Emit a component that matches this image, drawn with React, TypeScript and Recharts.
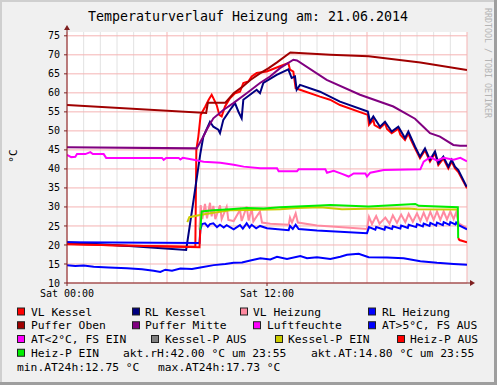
import { LineChart, Line, XAxis, YAxis, CartesianGrid } from "recharts";

const FONT = "'DejaVu Sans Mono', monospace";

// x axis in hours since Sat 00:00
const hourTicks = [0, 12];
const hourTickLabels = ["Sat 00:00", "Sat 12:00"];
const minorHours = [1, 2, 3, 4, 5, 7, 8, 9, 10, 11, 13, 14, 15, 16, 17, 19, 20, 21, 22, 23];
const majorHours = [0, 6, 12, 18, 24];
const tempTicks = [10, 15, 20, 25, 30, 35, 40, 45, 50, 55, 60, 65, 70, 75];

type P = [number, number];

const vlKessel: P[] = [
  [0, 20.3], [3.5, 19.8], [7.7, 19.5], [7.76, 45], [7.88, 48.5], [8.02, 54.2], [8.3, 56.4], [8.5, 58.2],
  [8.68, 59.5], [8.78, 58.6], [8.98, 56.8], [9.14, 54.2], [9.28, 53.8], [9.48, 56.4], [9.78, 58.6],
  [10.08, 59.9], [10.38, 60.3], [10.58, 62.6], [10.88, 63], [11.08, 64.3], [11.38, 65.2], [11.98, 65.6],
  [12.78, 67], [13.28, 67.8], [13.38, 66.1], [13.58, 65.6], [13.72, 61.2], [13.98, 60.8], [15.18, 59],
  [15.78, 58.2], [16.38, 56.8], [18.05, 54.2], [18.12, 51.6], [18.38, 52.9], [18.45, 51.5], [18.78, 50.7],
  [19.08, 52], [19.2, 50.5], [19.48, 49.4], [19.88, 50.6], [20, 49], [20.28, 47.6], [20.48, 49.3],
  [20.6, 48], [20.88, 45.4], [21.18, 42.8], [21.48, 44.9], [21.78, 41.9], [22.08, 44.1], [22.28, 41],
  [22.58, 42.7], [22.88, 40.1], [23.08, 41.9], [23.28, 40.1], [23.48, 39.2], [24, 34.9],
];

const rlKessel: P[] = [
  [0, 20.7], [3.5, 19.8], [7.15, 18.7], [7.6, 32], [8.0, 44], [8.18, 48.5], [8.58, 52.4], [8.78, 51.1],
  [9.08, 50.3], [9.18, 49.4], [9.38, 52.9], [9.78, 55.5], [10.08, 57.3], [10.28, 55.1], [10.48, 53.3],
  [10.58, 58.2], [10.98, 59.5], [11.38, 60.8], [11.58, 59.9], [11.78, 62.6], [12.58, 64.7], [13.28, 66.2],
  [13.48, 63.9], [13.68, 64.3], [13.78, 60.8], [13.98, 62.1], [15.18, 60.3], [16.38, 57.7], [18.05, 55.1],
  [18.18, 52.4], [18.38, 53.8], [18.78, 51.1], [19.08, 52.4], [19.48, 49.8], [19.88, 51.1], [20.28, 48.1],
  [20.48, 49.8], [20.88, 45.9], [21.18, 43.2], [21.48, 45.4], [21.78, 42.4], [22.08, 44.6], [22.28, 41.5],
  [22.58, 43.2], [22.88, 40.6], [23.08, 42.4], [23.28, 40.6], [23.48, 39.7], [23.98, 35.3],
];

const vlHeizung: P[] = [
  [7.95, 24.0], [8.02, 30.5], [8.12, 26.8], [8.28, 30.8], [8.4, 27.0], [8.58, 31.1], [8.68, 27.5],
  [8.78, 30.3], [8.9, 26.8], [9.18, 30.4], [9.28, 26.8], [9.58, 30.0], [9.68, 26.6], [10.0, 26.3],
  [10.38, 29.2], [10.48, 26.3], [10.78, 30.1], [10.9, 26.4], [11.08, 29.6], [11.18, 26.2], [11.58, 28.8],
  [11.7, 25.9], [12.2, 25.6], [13.3, 25.3], [13.38, 27.2], [13.5, 25.9], [13.72, 28.3], [13.85, 25.9],
  [15, 25.1], [18.0, 24.2], [18.12, 27.4], [18.3, 25.5], [18.55, 27.6], [18.75, 25.6], [19.1, 27.2],
  [19.35, 25.6], [19.55, 27.8], [19.8, 25.8], [20.05, 28.0], [20.3, 26.0], [20.5, 28.2], [20.75, 26.1],
  [21.0, 28.3], [21.2, 26.3], [21.4, 28.5], [21.6, 26.4], [21.8, 28.7], [22.0, 26.6], [22.2, 28.8],
  [22.4, 26.6], [22.6, 28.8], [22.8, 26.7], [23.0, 28.8], [23.2, 26.8], [23.35, 28.6], [23.5, 25.7],
  [24, 24.4],
];

const rlHeizung: P[] = [
  [0, 20.7], [7.95, 20.5], [8.0, 24.0], [8.1, 25.5], [8.28, 25.7], [8.45, 24.8], [8.58, 25.5], [8.78, 25.7],
  [9.0, 24.7], [9.18, 25.3], [9.4, 24.6], [9.58, 25.2], [10.0, 24.1], [10.38, 25.2], [10.55, 24.3],
  [10.78, 25.7], [10.95, 24.6], [11.08, 25.3], [11.35, 24.4], [11.58, 25.0], [12.0, 24.4], [13.3, 23.9],
  [13.38, 25.0], [13.55, 24.2], [13.72, 25.3], [13.9, 24.2], [15, 23.8], [18.0, 23.1], [18.12, 24.7],
  [18.5, 24.0], [18.55, 24.7], [19.05, 24.0], [19.1, 24.8], [19.5, 24.2], [19.55, 24.9], [20.0, 24.3],
  [20.05, 25.1], [20.45, 24.5], [20.5, 25.3], [20.95, 24.7], [21.0, 25.5], [21.35, 24.9], [21.4, 25.6],
  [21.75, 25.0], [21.8, 25.8], [22.15, 25.1], [22.2, 25.9], [22.55, 25.2], [22.6, 26.0], [22.95, 25.3],
  [23.0, 26.0], [23.3, 25.4], [23.35, 25.9], [23.5, 25.2], [24, 24.1],
];

const pufferOben: P[] = [
  [0, 56.8], [8.35, 54.7], [8.45, 57.4], [9.5, 57.4], [10, 59.9], [10.5, 61.5], [11, 63.4], [11.6, 65.2],
  [12.1, 66.5], [12.6, 68], [13.4, 70.6], [15.8, 70], [18.1, 69.6], [21.2, 68], [24, 66],
];

const pufferMitte: P[] = [
  [0, 45.7], [7.78, 45.4], [8.18, 48.5], [8.38, 50.3], [8.78, 53.3], [9.38, 55.5], [9.98, 57.3],
  [10.78, 59.9], [11.58, 62.6], [12.18, 64.3], [12.78, 66.5], [13.58, 68.7], [13.8, 68.5], [15.58, 63.4],
  [17.58, 59.5], [19.58, 56.4], [20.88, 53.2], [21.38, 51.1], [21.78, 49.4], [22.38, 48.5], [23.18, 46.3],
  [23.58, 46.1], [24, 46.1],
];

const luftfeuchte: P[] = [
  [0, 43.7], [0.25, 43.1], [0.5, 43.2], [0.6, 43.9], [1.1, 43.9], [1.4, 44.4], [1.55, 43.9], [2.2, 43.9],
  [2.35, 42.9], [5.7, 42.9], [5.8, 42.4], [5.95, 42.9], [6.7, 42.9], [6.8, 42.5], [6.95, 42.9], [7.6, 42.4],
  [8.2, 41.9], [9.2, 41.6], [10.0, 41.1], [10.6, 40.6], [11.6, 40.2], [12.6, 40.2], [12.7, 39.4],
  [13.8, 39.4], [13.9, 39.9], [15.5, 39.9], [15.6, 39.0], [16.0, 39.5], [16.5, 38.7], [16.9, 38.0],
  [17.2, 38.8], [17.9, 38.8], [18.0, 38.0], [18.2, 39.0], [19.0, 39.7], [21.2, 39.9], [21.4, 41.9],
  [21.8, 43.1], [22.2, 42.2], [22.6, 42.9], [23.2, 42.4], [23.6, 42.9], [24, 42.0],
];

const aussenTemp: P[] = [
  [0, 14.7], [0.5, 14.5], [1.0, 14.6], [1.6, 14.3], [2.5, 14.1], [3.6, 13.9], [4.5, 13.6], [5.2, 13.2],
  [5.6, 12.9], [5.9, 13.5], [6.3, 13.2], [6.8, 13.8], [7.5, 13.7], [8.0, 14.1], [8.8, 14.7], [9.5, 15.0],
  [10.0, 15.3], [10.5, 15.4], [11.0, 15.9], [11.6, 16.5], [12.2, 16.2], [12.6, 16.9], [13.2, 16.3],
  [14.0, 17.1], [14.4, 16.5], [15.0, 16.8], [15.8, 16.3], [16.4, 16.9], [16.8, 17.4], [17.5, 17.7],
  [18.1, 16.8], [19.2, 16.7], [20.2, 16.5], [21.2, 15.7], [22.2, 15.3], [23.2, 15.0], [24, 14.8],
];

const kesselPEin: P[] = [
  [7.22, 26.0], [7.34, 27.3], [7.98, 27.9], [8.78, 28.5], [9.78, 29.1], [10.8, 29.2], [12.8, 29.4],
  [13.8, 29.7], [15.2, 29.9], [16.5, 29.4], [18.0, 29.5], [20.5, 29.6], [21.0, 29.4], [23.4, 29.3],
];

const heizPEin: P[] = [
  [8.0, 24.0], [8.08, 28.8], [8.78, 29.1], [9.78, 29.4], [10.78, 29.7], [11.8, 29.6], [12.78, 29.9],
  [13.78, 30.1], [15.2, 30.4], [15.8, 30.5], [18.1, 30.1], [20.9, 30.8], [21.1, 30.3], [23.45, 29.9],
  [23.47, 21.8],
];

const heizPAusMorning: P[] = [[0, 20.2], [4, 19.8], [7.95, 19.4], [8.0, 24.0]];
const heizPAusNight: P[] = [[23.47, 21.8], [23.55, 21.3], [24, 20.7]];

const pts = (a: P[]) => a.map(([h, v]) => ({ h, v }));

// draw order follows the legend
const series = [
  { key: "vlKessel", color: "#ff0000", data: vlKessel },
  { key: "rlKessel", color: "#000080", data: rlKessel },
  { key: "vlHeizung", color: "#ff8aa0", data: vlHeizung },
  { key: "rlHeizung", color: "#0000ff", data: rlHeizung },
  { key: "pufferOben", color: "#a00000", data: pufferOben },
  { key: "pufferMitte", color: "#800080", data: pufferMitte },
  { key: "luftfeuchte", color: "#ff00ff", data: luftfeuchte },
  { key: "at", color: "#0000ff", data: aussenTemp },
  { key: "kesselPEin", color: "#cccc00", data: kesselPEin },
  { key: "heizPAus1", color: "#ff0000", data: heizPAusMorning },
  { key: "heizPAus2", color: "#ff0000", data: heizPAusNight },
  { key: "heizPEin", color: "#00ee00", data: heizPEin },
];

const legendRows = [
  [
    { box: 17, x: 31, text: "VL Kessel", color: "#ff0000" },
    { box: 132, x: 145, text: "RL Kessel", color: "#000080" },
    { box: 240, x: 253, text: "VL Heizung", color: "#ff8aa0" },
    { box: 368, x: 382, text: "RL Heizung", color: "#0000ff" },
  ],
  [
    { box: 17, x: 31, text: "Puffer Oben", color: "#a00000" },
    { box: 132, x: 145, text: "Puffer Mitte", color: "#800080" },
    { box: 253, x: 267, text: "Luftfeuchte", color: "#ff00ff" },
    { box: 368, x: 382, text: "AT>5°C, FS AUS", color: "#0000ff" },
  ],
  [
    { box: 17, x: 31, text: "AT<2°C, FS EIN", color: "#ff00ff" },
    { box: 151, x: 165, text: "Kessel-P AUS", color: "#808080" },
    { box: 275, x: 288, text: "Kessel-P EIN", color: "#cccc00" },
    { box: 397, x: 410, text: "Heiz-P AUS", color: "#ff0000" },
  ],
  [
    { box: 17, x: 31, text: "Heiz-P EIN", color: "#00ee00" },
    { box: null, x: 123, text: "akt.rH:42.00 °C um 23:55", color: "" },
    { box: null, x: 311, text: "akt.AT:14.80 °C um 23:55", color: "" },
  ],
  [
    { box: null, x: 17, text: "min.AT24h:12.75 °C", color: "" },
    { box: null, x: 158, text: "max.AT24h:17.73 °C", color: "" },
  ],
];

const AXIS = "#7f2020";

const App = () => {
  return (
    <div style={{ position: "absolute", left: 0, top: 0, width: 497, height: 385, background: "#f0f0f0", overflow: "hidden" }}>
      <LineChart
        width={497}
        height={385}
        margin={{ top: 32, right: 30, bottom: 72, left: 7 }}
        style={{ position: "absolute", left: 0, top: 0 }}
      >
        <CartesianGrid
          horizontal={false}
          verticalValues={minorHours}
          stroke="#e2e2e2"
          fill="#ffffff"
          fillOpacity={1}
        />
        <CartesianGrid verticalValues={majorHours} horizontalValues={tempTicks} stroke="#f5b3b3" />
        <XAxis
          dataKey="h"
          type="number"
          domain={[0, 24]}
          ticks={hourTicks}
          interval={0}
          allowDataOverflow
          height={30}
          tickFormatter={(v: number) => hourTickLabels[hourTicks.indexOf(v)] ?? ""}
          tick={{ fontSize: 10, fill: "#000", fontFamily: FONT }}
          tickSize={3}
          tickMargin={4}
          stroke={AXIS}
        />
        <YAxis
          type="number"
          domain={[10, 76]}
          ticks={tempTicks}
          interval={0}
          allowDataOverflow
          width={60}
          tick={{ fontSize: 10, fill: "#000", fontFamily: FONT }}
          tickSize={3}
          tickMargin={4}
          stroke={AXIS}
        />
        {series.map((s) => (
          <Line
            key={s.key}
            data={pts(s.data)}
            dataKey="v"
            type="linear"
            stroke={s.color}
            strokeWidth={2}
            dot={false}
            activeDot={false}
            isAnimationActive={false}
          />
        ))}
      </LineChart>
      <svg width={497} height={385} style={{ position: "absolute", left: 0, top: 0, pointerEvents: "none" }}>
        <rect x={0} y={0} width={497} height={2} fill="#cfcfcf" />
        <rect x={0} y={0} width={2} height={385} fill="#cfcfcf" />
        <rect x={0} y={382} width={497} height={3} fill="#9e9e9e" />
        <rect x={494} y={0} width={3} height={385} fill="#9e9e9e" />
        <text x={248} y={21} textAnchor="middle" fontFamily={FONT} fontSize={13.3} fill="#000">
          Temperaturverlauf Heizung am: 21.06.2014
        </text>
        <text
          x={487}
          y={8}
          transform="rotate(90 487 8)"
          fontFamily={FONT}
          fontSize={8.3}
          fill="#b4b4b4"
          dominantBaseline="middle"
        >
          RRDTOOL / TOBI OETIKER
        </text>
        <text x={17} y={156} transform="rotate(-90 17 156)" textAnchor="middle" fontFamily={FONT} fontSize={11} fill="#000">
          °C
        </text>
        {/* axis arrows */}
        <line x1={67} y1={32} x2={67} y2={29} stroke={AXIS} />
        <polygon points="64,30 70,30 67,25" fill={AXIS} />
        <line x1={467} y1={283} x2={471} y2={283} stroke={AXIS} />
        <polygon points="470,280 470,286 475,283" fill={AXIS} />
        {legendRows.map((row, ri) => {
          const base = 315.5 + ri * 13.75;
          return row.map((it, i) => (
            <g key={ri + "-" + i}>
              {it.box !== null && (
                <rect x={it.box + 0.5} y={base - 7.5} width={7} height={7} fill={it.color} stroke="#202020" strokeWidth={1} />
              )}
              <text x={it.x} y={base} fontFamily={FONT} fontSize={11.3} fill="#000" style={{ whiteSpace: "pre" }}>
                {it.text}
              </text>
            </g>
          ));
        })}
      </svg>
    </div>
  );
};

export default App;
